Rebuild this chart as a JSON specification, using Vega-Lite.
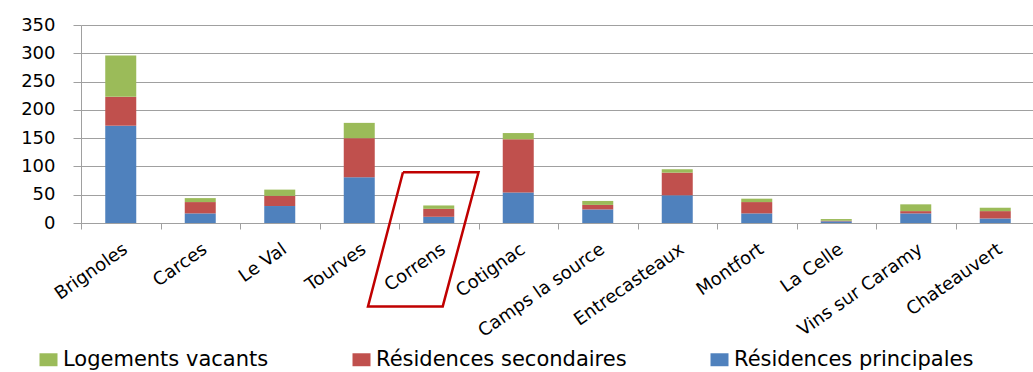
{
  "$schema": "https://vega.github.io/schema/vega-lite/v6.json",
  "autosize": "none",
  "width": 954,
  "height": 198,
  "padding": {"left": 81, "top": 25, "right": 0, "bottom": 149},
  "config": {"view": {"stroke": null}, "font": "DejaVu Sans"},
  "datasets": {
    "logements": [
      {"commune": "Brignoles", "Résidences principales": 172, "Résidences secondaires": 51, "Logements vacants": 73},
      {"commune": "Carces", "Résidences principales": 17, "Résidences secondaires": 20, "Logements vacants": 7},
      {"commune": "Le Val", "Résidences principales": 30, "Résidences secondaires": 18, "Logements vacants": 11},
      {"commune": "Tourves", "Résidences principales": 81, "Résidences secondaires": 69, "Logements vacants": 27},
      {"commune": "Correns", "Résidences principales": 11, "Résidences secondaires": 14, "Logements vacants": 6},
      {"commune": "Cotignac", "Résidences principales": 54, "Résidences secondaires": 94, "Logements vacants": 11},
      {"commune": "Camps la source", "Résidences principales": 24, "Résidences secondaires": 8, "Logements vacants": 7},
      {"commune": "Entrecasteaux", "Résidences principales": 49, "Résidences secondaires": 40, "Logements vacants": 6},
      {"commune": "Montfort", "Résidences principales": 17, "Résidences secondaires": 20, "Logements vacants": 6},
      {"commune": "La Celle", "Résidences principales": 3, "Résidences secondaires": 1, "Logements vacants": 3},
      {"commune": "Vins sur Caramy", "Résidences principales": 17, "Résidences secondaires": 4, "Logements vacants": 12},
      {"commune": "Chateauvert", "Résidences principales": 8, "Résidences secondaires": 13, "Logements vacants": 6}
    ],
    "types": [
      {"type": "Résidences principales", "rang": 1},
      {"type": "Résidences secondaires", "rang": 2},
      {"type": "Logements vacants", "rang": 3}
    ],
    "cadre": [
      {"i": 1, "px": 4.05, "py": 89.8},
      {"i": 2, "px": 5.0, "py": 89.8},
      {"i": 3, "px": 4.55, "py": -147.5},
      {"i": 4, "px": 3.61, "py": -147.5},
      {"i": 5, "px": 4.05, "py": 89.8}
    ]
  },
  "layer": [
    {
      "data": {"name": "logements"},
      "transform": [
        {"fold": ["Résidences principales", "Résidences secondaires", "Logements vacants"], "as": ["type", "nombre"]},
        {"lookup": "type", "from": {"data": {"name": "types"}, "key": "type", "fields": ["rang"]}}
      ],
      "mark": {"type": "bar"},
      "encoding": {
        "x": {
          "field": "commune", "type": "nominal", "sort": null,
          "scale": {"paddingInner": 0.61, "paddingOuter": 0.305},
          "axis": {"title": null, "labelAngle": -35, "labelFontSize": 18, "labelColor": "#000000", "ticks": false, "domainColor": "#a0a0a0", "labelPadding": 17, "grid": false}
        },
        "y": {
          "field": "nombre", "type": "quantitative", "stack": "zero",
          "scale": {"domain": [0, 350], "nice": false},
          "axis": {"title": null, "values": [0, 50, 100, 150, 200, 250, 300, 350], "tickCount": 8, "labelOverlap": false, "tickSize": 8, "tickColor": "#a0a0a0", "domainColor": "#a0a0a0", "gridColor": "#a0a0a0", "gridOpacity": 1, "labelFontSize": 18, "labelColor": "#000000", "labelPadding": 18}
        },
        "color": {
          "field": "type", "type": "nominal",
          "scale": {"domain": ["Logements vacants", "Résidences secondaires", "Résidences principales"], "range": ["#9BBB59", "#C0504D", "#4F81BD"]},
          "legend": {
            "title": null, "orient": "none", "direction": "horizontal", "legendX": -43, "legendY": 324,
            "padding": 0, "symbolType": "M-1,-0.72H1V0.72H-1Z", "symbolSize": 324, "symbolStrokeWidth": 0,
            "labelFontSize": 21, "labelColor": "#000000", "labelOffset": 4, "columnPadding": 82, "labelLimit": 400
          }
        },
        "order": {"field": "rang", "type": "quantitative", "sort": "ascending"}
      }
    },
    {
      "data": {"name": "cadre"},
      "mark": {"type": "line", "color": "#C00000", "strokeWidth": 2.5, "clip": false},
      "encoding": {
        "x": {
          "field": "px", "type": "quantitative",
          "scale": {"domain": [0, 12], "nice": false, "zero": false},
          "axis": {"orient": "bottom", "title": null, "values": [0, 1, 2, 3, 4, 5, 6, 7, 8, 9, 10, 11, 12], "labels": false, "grid": false, "domain": false, "ticks": true, "tickSize": 6, "tickColor": "#a0a0a0"}
        },
        "y": {
          "field": "py", "type": "quantitative",
          "scale": {"domain": [0, 350], "nice": false},
          "axis": {"title": null, "values": [0, 50, 100, 150, 200, 250, 300, 350], "tickCount": 8, "labelOverlap": false, "tickSize": 8, "tickColor": "#a0a0a0", "domainColor": "#a0a0a0", "gridColor": "#a0a0a0", "gridOpacity": 1, "labelFontSize": 18, "labelColor": "#000000", "labelPadding": 18}
        },
        "order": {"field": "i"}
      }
    }
  ],
  "resolve": {"scale": {"x": "independent"}}
}
